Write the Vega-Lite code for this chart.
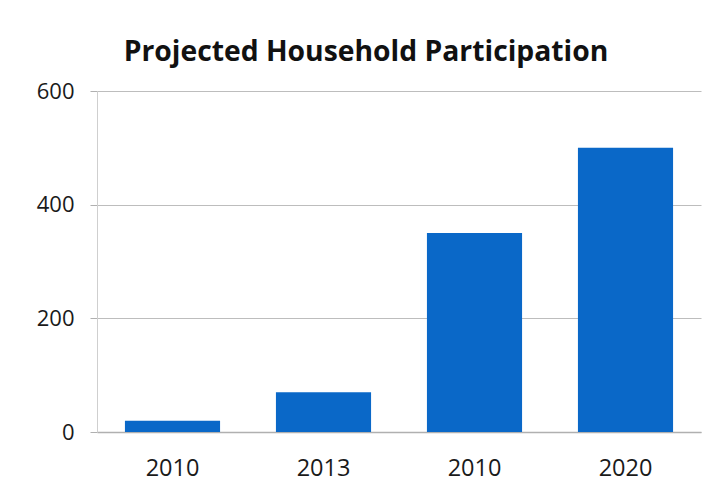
{
  "$schema": "https://vega.github.io/schema/vega-lite/v6.json",
  "autosize": "none",
  "width": 604,
  "height": 341,
  "padding": {"left": 97, "top": 91, "right": 12, "bottom": 72},
  "background": "white",
  "title": {
    "text": "Projected Household Participation",
    "font": "Open Sans",
    "fontSize": 28.3,
    "fontWeight": "bold",
    "color": "#111111",
    "anchor": "middle",
    "dx": -33,
    "offset": 13
  },
  "data": {
    "values": [
      {"slot": "2010|1", "value": 20},
      {"slot": "2013|2", "value": 70},
      {"slot": "2010|3", "value": 350},
      {"slot": "2020|4", "value": 500}
    ]
  },
  "mark": {"type": "bar", "color": "#0a68c8"},
  "encoding": {
    "x": {
      "field": "slot",
      "type": "nominal",
      "sort": null,
      "scale": {"paddingInner": 0.37, "paddingOuter": 0.185},
      "axis": {
        "title": null,
        "labelAngle": 0,
        "labelExpr": "split(datum.value, '|')[0]",
        "labelFont": "Open Sans",
        "labelFontSize": 23.5,
        "labelColor": "#1a1a1a",
        "labelPadding": 24,
        "ticks": false,
        "domainColor": "#b0b0b0",
        "domainWidth": 1.5
      }
    },
    "y": {
      "field": "value",
      "type": "quantitative",
      "scale": {"domain": [0, 600], "nice": false},
      "axis": {
        "title": null,
        "values": [0, 200, 400, 600],
        "labelFont": "Open Sans",
        "labelFontSize": 22,
        "labelColor": "#1a1a1a",
        "labelPadding": 16,
        "tickSize": 7,
        "tickColor": "#b0b0b0",
        "domainColor": "#cfcfcf",
        "gridColor": "#bdbdbd",
        "gridWidth": 1.2
      }
    }
  },
  "config": {"view": {"stroke": null}}
}
